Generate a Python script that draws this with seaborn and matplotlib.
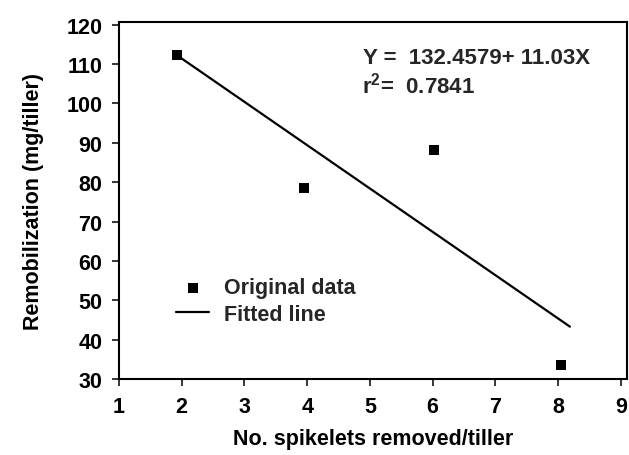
import matplotlib
matplotlib.use("Agg")
import matplotlib.pyplot as plt
import seaborn as sns
import pandas as pd

spikelets_removed = [1.92, 3.95, 6.02, 8.04]
remobilization = [112.3, 78.4, 88.1, 33.6]
fit_x = [1.92, 8.19]
fit_y = [112.3, 43.3]
x_ticks = [1, 2, 3, 4, 5, 6, 7, 8, 9]
y_ticks = [30, 40, 50, 60, 70, 80, 90, 100, 110, 120]
equation_text = "Y =  132.4579+ 11.03X"
r2_text = "r$^{\\mathbf{2}}$=  0.7841"

sns.set_theme(style="white")
plt.rcParams['font.family'] = ['Liberation Sans', 'DejaVu Sans']
plt.rcParams['mathtext.fontset'] = 'custom'
plt.rcParams['mathtext.bf'] = 'Liberation Sans:bold'
plt.rcParams['mathtext.rm'] = 'Liberation Sans'

FS = 15.5
W, H = 629, 456
fig = plt.figure(figsize=(W / 100, H / 100), dpi=100)
L, R, T, B = 119, 627, 23, 380
ax = fig.add_axes([L / W, 1 - B / H, (R - L) / W, (B - T) / H])

df = pd.DataFrame({"x": spikelets_removed, "y": remobilization})
fit_df = pd.DataFrame({"x": fit_x, "y": fit_y})

sns.lineplot(data=fit_df, x="x", y="y", ax=ax, color="black", linewidth=1.6,
             label="Fitted line")
sns.scatterplot(data=df, x="x", y="y", ax=ax, marker="s", s=52, color="black",
                edgecolor="black", linewidth=0, label="Original data", zorder=3)

ax.set_xlim(1, 9.1)
ax.set_ylim(30, 120.7)
ax.set_xticks(x_ticks)
ax.set_yticks(y_ticks)
ax.tick_params(axis="both", direction="out", length=5, width=1.1, pad=7,
               labelsize=FS, colors="black", bottom=True, left=True)
for lab in ax.get_xticklabels() + ax.get_yticklabels():
    lab.set_fontweight("bold")
for sp in ax.spines.values():
    sp.set_color("black")
    sp.set_linewidth(1.5)

ax.set_xlabel("No. spikelets removed/tiller", fontsize=FS, fontweight="bold",
              color="black", labelpad=8)
ax.set_ylabel("Remobilization (mg/tiller)", fontsize=FS, fontweight="bold",
              color="black", labelpad=16)

def ax_frac_x(px):
    return (px - L) / (R - L)

def ax_frac_y(py):
    return (B - py) / (B - T)

ax.text(ax_frac_x(363), ax_frac_y(59), equation_text, transform=ax.transAxes,
        fontsize=16, fontweight="bold", va="center", ha="left")
ax.text(ax_frac_x(362), ax_frac_y(86), r2_text, transform=ax.transAxes,
        fontsize=16, fontweight="bold", va="center", ha="left")

handles, labels = ax.get_legend_handles_labels()
order = [labels.index("Original data"), labels.index("Fitted line")]
ax.legend([handles[i] for i in order], [labels[i] for i in order],
          loc="center left", bbox_to_anchor=(ax_frac_x(176), ax_frac_y(302)),
          frameon=False, borderpad=0, borderaxespad=0,
          prop={"size": FS, "weight": "bold"}, handlelength=1.55,
          handletextpad=0.7, labelspacing=0.25)

fig.savefig("out.png", dpi=100)
